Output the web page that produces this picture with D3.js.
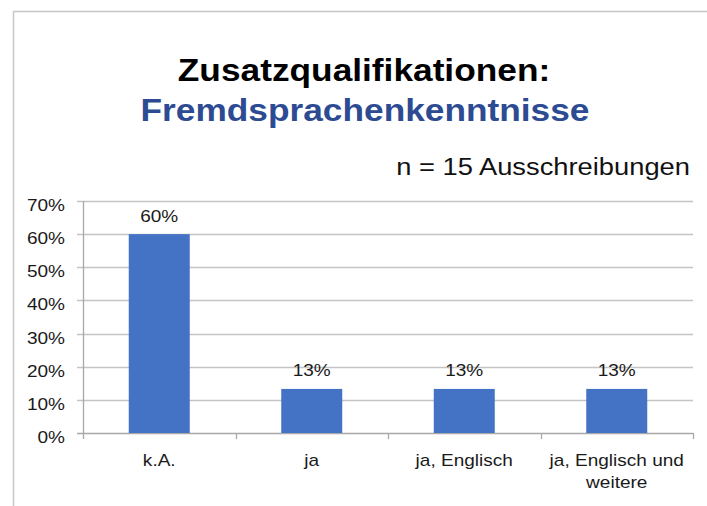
<!DOCTYPE html>
<html>
<head>
<meta charset="utf-8">
<script src="https://cdn.jsdelivr.net/npm/d3@7"></script>
<style>
    body { margin: 0; background: #fff; }
    text { font-family: "Liberation Sans", Arial, sans-serif; fill: #1a1a1a; }
</style>
</head>
<body>
<div id="chart"></div>
<script>
// chart data
const categories = ["k.A.", "ja", "ja, Englisch", "ja, Englisch und weitere"];
const shares = [0.60, 0.133, 0.133, 0.133];
const yTicks = [0, 0.1, 0.2, 0.3, 0.4, 0.5, 0.6, 0.7];
const titleLines = ["Zusatzqualifikationen:", "Fremdsprachenkenntnisse"];
const subtitle = "n = 15 Ausschreibungen";

const width = 707, height = 506;
const margin = {top: 201, right: 14, bottom: 73, left: 83};
const SX = 1.12; // the source text is a bit wider than high

const svg = d3.select("#chart").append("svg")
    .attr("width", width)
    .attr("height", height);

// frame of the chart area
svg.append("path")
    .attr("d", `M13.5,${height} L13.5,11.5 L${width},11.5`)
    .attr("fill", "none")
    .attr("stroke", "#c6c6c6")
    .attr("stroke-width", 1.5);

function label(sel, x, y, txt) {
    return sel.append("text")
        .attr("transform", `translate(${x},${y}) scale(${SX},1)`)
        .text(txt);
}

// titles
label(svg, 364, 81, titleLines[0])
    .attr("text-anchor", "middle")
    .attr("font-size", 31.5)
    .attr("font-weight", "bold")
    .style("fill", "#000");
label(svg, 365, 121, titleLines[1])
    .attr("text-anchor", "middle")
    .attr("font-size", 31.5)
    .attr("font-weight", "bold")
    .style("fill", "#2c4b92");
label(svg, 690, 175, subtitle)
    .attr("text-anchor", "end")
    .attr("font-size", 24.4)
    .style("fill", "#111");

const x = d3.scaleBand()
    .domain(categories)
    .range([margin.left, width - margin.right])
    .paddingInner(0.6)
    .paddingOuter(0.3);

const y = d3.scaleLinear()
    .domain([0, 0.7])
    .range([height - margin.bottom, margin.top]);

// gridlines + y ticks
svg.append("g")
    .selectAll("line")
    .data(yTicks)
    .join("line")
    .attr("x1", margin.left - 6)
    .attr("x2", width - margin.right)
    .attr("y1", d => Math.round(y(d)) + 0.5)
    .attr("y2", d => Math.round(y(d)) + 0.5)
    .attr("stroke", d => d === 0 ? "#a8a8a8" : "#c4c4c4")
    .attr("stroke-width", 1.3);

const tickLabels = svg.append("g");
yTicks.forEach(d => {
    label(tickLabels, margin.left - 18, y(d) + 10, d3.format(".0%")(d))
        .attr("text-anchor", "end")
        .attr("font-size", 17);
});

// y axis line
svg.append("line")
    .attr("x1", margin.left + 0.5)
    .attr("x2", margin.left + 0.5)
    .attr("y1", margin.top)
    .attr("y2", height - margin.bottom + 6)
    .attr("stroke", "#a8a8a8")
    .attr("stroke-width", 1.3);

// category boundary ticks
const step = x.step();
const bounds = categories.map(c => x(c) - step * x.paddingInner() / 2)
    .concat([width - margin.right]);
svg.append("g")
    .selectAll("line")
    .data(bounds.slice(1))
    .join("line")
    .attr("x1", d => Math.round(d) + 0.5)
    .attr("x2", d => Math.round(d) + 0.5)
    .attr("y1", height - margin.bottom)
    .attr("y2", height - margin.bottom + 6)
    .attr("stroke", "#a8a8a8")
    .attr("stroke-width", 1.3);

// bars
svg.append("g")
    .selectAll("rect")
    .data(categories)
    .join("rect")
    .attr("x", d => x(d))
    .attr("width", x.bandwidth())
    .attr("y", (d, i) => y(shares[i]))
    .attr("height", (d, i) => y(0) - y(shares[i]))
    .attr("fill", "#4472c4");

// value labels
categories.forEach((c, i) => {
    label(svg, x(c) + x.bandwidth() / 2, y(shares[i]) - 12.5, d3.format(".0%")(shares[i]))
        .attr("text-anchor", "middle")
        .attr("font-size", 17);
});

// category labels, wrapped to the slot width
categories.forEach(c => {
    const cx = x(c) + x.bandwidth() / 2;
    const words = c.split(" ");
    const lines = [];
    let cur = [];
    const probe = svg.append("text").attr("font-size", 17);
    words.forEach(w => {
        probe.text(cur.concat([w]).join(" "));
        if (cur.length && probe.node().getComputedTextLength() * SX > step - 8) {
            lines.push(cur.join(" "));
            cur = [w];
        } else {
            cur.push(w);
        }
    });
    lines.push(cur.join(" "));
    probe.remove();
    lines.forEach((ln, k) => {
        label(svg, cx, 466 + k * 22, ln)
            .attr("text-anchor", "middle")
            .attr("font-size", 17);
    });
});
</script>
</body>
</html>
